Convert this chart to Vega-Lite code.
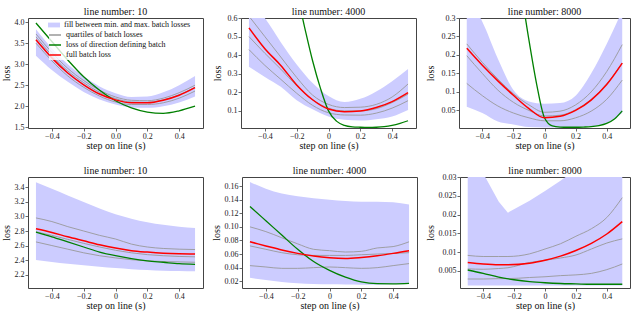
{
  "$schema": "https://vega.github.io/schema/vega-lite/v6.json",
  "padding": {"left": 0, "top": 6, "right": 0, "bottom": 0},
  "background": "white",
  "datasets": {
    "p1": [
      {"s": -0.5, "lo": 3.20, "hi": 3.83, "q1": 3.50, "q2": 3.65, "q3": 3.72, "r": 3.58},
      {"s": -0.4, "lo": 2.86, "hi": 3.38, "q1": 3.08, "q2": 3.21, "q3": 3.28, "r": 3.15},
      {"s": -0.3, "lo": 2.58, "hi": 3.00, "q1": 2.72, "q2": 2.84, "q3": 2.90, "r": 2.79},
      {"s": -0.2, "lo": 2.34, "hi": 2.71, "q1": 2.45, "q2": 2.56, "q3": 2.61, "r": 2.51},
      {"s": -0.1, "lo": 2.16, "hi": 2.47, "q1": 2.24, "q2": 2.33, "q3": 2.38, "r": 2.29},
      {"s": 0.0, "lo": 2.04, "hi": 2.31, "q1": 2.10, "q2": 2.18, "q3": 2.22, "r": 2.15},
      {"s": 0.1, "lo": 1.97, "hi": 2.22, "q1": 2.04, "q2": 2.10, "q3": 2.14, "r": 2.08},
      {"s": 0.2, "lo": 1.96, "hi": 2.23, "q1": 2.04, "q2": 2.09, "q3": 2.13, "r": 2.08},
      {"s": 0.3, "lo": 2.00, "hi": 2.33, "q1": 2.08, "q2": 2.15, "q3": 2.19, "r": 2.14},
      {"s": 0.4, "lo": 2.09, "hi": 2.50, "q1": 2.19, "q2": 2.27, "q3": 2.32, "r": 2.26},
      {"s": 0.5, "lo": 2.23, "hi": 2.72, "q1": 2.36, "q2": 2.45, "q3": 2.50, "r": 2.44}
    ],
    "g1": [
      {"s": -0.5, "g": 3.98}, {"s": -0.4, "g": 3.54}, {"s": -0.3, "g": 3.10}, {"s": -0.2, "g": 2.70},
      {"s": -0.1, "g": 2.38}, {"s": 0.0, "g": 2.13}, {"s": 0.1, "g": 1.96}, {"s": 0.2, "g": 1.86},
      {"s": 0.3, "g": 1.83}, {"s": 0.4, "g": 1.89}, {"s": 0.5, "g": 2.00}
    ],
    "p2": [
      {"s": -0.5, "lo": 0.337, "hi": 0.70, "q1": 0.43, "q2": 0.50, "q3": 0.61, "r": 0.547},
      {"s": -0.4, "lo": 0.283, "hi": 0.60, "q1": 0.345, "q2": 0.41, "q3": 0.50, "r": 0.435},
      {"s": -0.3, "lo": 0.23, "hi": 0.47, "q1": 0.27, "q2": 0.325, "q3": 0.39, "r": 0.345},
      {"s": -0.2, "lo": 0.158, "hi": 0.35, "q1": 0.195, "q2": 0.235, "q3": 0.28, "r": 0.24},
      {"s": -0.1, "lo": 0.109, "hi": 0.25, "q1": 0.13, "q2": 0.16, "q3": 0.185, "r": 0.16},
      {"s": 0.0, "lo": 0.07, "hi": 0.18, "q1": 0.09, "q2": 0.115, "q3": 0.135, "r": 0.11},
      {"s": 0.1, "lo": 0.052, "hi": 0.148, "q1": 0.078, "q2": 0.10, "q3": 0.118, "r": 0.096},
      {"s": 0.2, "lo": 0.048, "hi": 0.165, "q1": 0.077, "q2": 0.10, "q3": 0.12, "r": 0.10},
      {"s": 0.3, "lo": 0.055, "hi": 0.205, "q1": 0.088, "q2": 0.112, "q3": 0.135, "r": 0.118},
      {"s": 0.4, "lo": 0.07, "hi": 0.26, "q1": 0.115, "q2": 0.145, "q3": 0.175, "r": 0.15},
      {"s": 0.5, "lo": 0.105, "hi": 0.325, "q1": 0.155, "q2": 0.19, "q3": 0.245, "r": 0.198}
    ],
    "g2": [
      {"s": -0.5, "g": 1.9}, {"s": -0.4, "g": 1.45}, {"s": -0.3, "g": 1.08}, {"s": -0.25, "g": 0.9},
      {"s": -0.2, "g": 0.74}, {"s": -0.15, "g": 0.55}, {"s": -0.1, "g": 0.37}, {"s": -0.05, "g": 0.22},
      {"s": 0.0, "g": 0.10}, {"s": 0.05, "g": 0.045}, {"s": 0.1, "g": 0.022}, {"s": 0.15, "g": 0.014},
      {"s": 0.2, "g": 0.012}, {"s": 0.25, "g": 0.011}, {"s": 0.3, "g": 0.012}, {"s": 0.35, "g": 0.015},
      {"s": 0.4, "g": 0.022}, {"s": 0.45, "g": 0.033}, {"s": 0.5, "g": 0.047}
    ],
    "p3": [
      {"s": -0.5, "lo": 0.06, "hi": 0.36, "q1": 0.123, "q2": 0.198, "q3": 0.23, "r": 0.218},
      {"s": -0.4, "lo": 0.043, "hi": 0.29, "q1": 0.09, "q2": 0.15, "q3": 0.18, "r": 0.172},
      {"s": -0.3, "lo": 0.02, "hi": 0.19, "q1": 0.062, "q2": 0.105, "q3": 0.135, "r": 0.13},
      {"s": -0.2, "lo": 0.012, "hi": 0.105, "q1": 0.043, "q2": 0.072, "q3": 0.095, "r": 0.091},
      {"s": -0.1, "lo": 0.005, "hi": 0.074, "q1": 0.03, "q2": 0.05, "q3": 0.065, "r": 0.055},
      {"s": 0.0, "lo": 0.004, "hi": 0.068, "q1": 0.022, "q2": 0.035, "q3": 0.045, "r": 0.03},
      {"s": 0.1, "lo": 0.004, "hi": 0.07, "q1": 0.022, "q2": 0.037, "q3": 0.048, "r": 0.034},
      {"s": 0.2, "lo": 0.005, "hi": 0.09, "q1": 0.03, "q2": 0.052, "q3": 0.065, "r": 0.05},
      {"s": 0.3, "lo": 0.007, "hi": 0.15, "q1": 0.048, "q2": 0.08, "q3": 0.10, "r": 0.078},
      {"s": 0.4, "lo": 0.016, "hi": 0.23, "q1": 0.08, "q2": 0.122, "q3": 0.155, "r": 0.12},
      {"s": 0.5, "lo": 0.043, "hi": 0.32, "q1": 0.132, "q2": 0.178, "q3": 0.228, "r": 0.178}
    ],
    "g3": [
      {"s": -0.5, "g": 1.5}, {"s": -0.4, "g": 1.1}, {"s": -0.3, "g": 0.75}, {"s": -0.25, "g": 0.6},
      {"s": -0.2, "g": 0.48}, {"s": -0.15, "g": 0.37}, {"s": -0.1, "g": 0.24}, {"s": -0.05, "g": 0.12},
      {"s": 0.0, "g": 0.03}, {"s": 0.05, "g": 0.008}, {"s": 0.1, "g": 0.005}, {"s": 0.15, "g": 0.0045},
      {"s": 0.2, "g": 0.0045}, {"s": 0.25, "g": 0.005}, {"s": 0.3, "g": 0.006}, {"s": 0.35, "g": 0.009},
      {"s": 0.4, "g": 0.015}, {"s": 0.45, "g": 0.027}, {"s": 0.5, "g": 0.049}
    ],
    "p4": [
      {"s": -0.5, "lo": 2.40, "hi": 3.47, "q1": 2.65, "q2": 2.79, "q3": 2.98, "r": 2.83},
      {"s": -0.4, "lo": 2.375, "hi": 3.38, "q1": 2.60, "q2": 2.74, "q3": 2.93, "r": 2.78},
      {"s": -0.3, "lo": 2.35, "hi": 3.29, "q1": 2.55, "q2": 2.685, "q3": 2.86, "r": 2.72},
      {"s": -0.2, "lo": 2.33, "hi": 3.20, "q1": 2.50, "q2": 2.63, "q3": 2.80, "r": 2.665},
      {"s": -0.1, "lo": 2.31, "hi": 3.11, "q1": 2.46, "q2": 2.58, "q3": 2.74, "r": 2.61},
      {"s": 0.0, "lo": 2.29, "hi": 3.03, "q1": 2.43, "q2": 2.535, "q3": 2.69, "r": 2.565},
      {"s": 0.1, "lo": 2.275, "hi": 2.97, "q1": 2.405, "q2": 2.50, "q3": 2.62, "r": 2.53},
      {"s": 0.2, "lo": 2.265, "hi": 2.92, "q1": 2.39, "q2": 2.475, "q3": 2.58, "r": 2.51},
      {"s": 0.3, "lo": 2.255, "hi": 2.885, "q1": 2.38, "q2": 2.46, "q3": 2.56, "r": 2.495},
      {"s": 0.4, "lo": 2.25, "hi": 2.86, "q1": 2.375, "q2": 2.45, "q3": 2.55, "r": 2.487},
      {"s": 0.5, "lo": 2.245, "hi": 2.84, "q1": 2.37, "q2": 2.445, "q3": 2.545, "r": 2.484}
    ],
    "g4": [
      {"s": -0.5, "g": 2.785}, {"s": -0.4, "g": 2.72}, {"s": -0.3, "g": 2.65}, {"s": -0.2, "g": 2.58},
      {"s": -0.1, "g": 2.51}, {"s": 0.0, "g": 2.46}, {"s": 0.1, "g": 2.42}, {"s": 0.2, "g": 2.39},
      {"s": 0.3, "g": 2.37}, {"s": 0.4, "g": 2.35}, {"s": 0.5, "g": 2.34}
    ],
    "p5": [
      {"s": -0.5, "lo": 0.025, "hi": 0.166, "q1": 0.043, "q2": 0.072, "q3": 0.10, "r": 0.078},
      {"s": -0.4, "lo": 0.022, "hi": 0.156, "q1": 0.041, "q2": 0.067, "q3": 0.093, "r": 0.072},
      {"s": -0.3, "lo": 0.019, "hi": 0.149, "q1": 0.039, "q2": 0.062, "q3": 0.084, "r": 0.066},
      {"s": -0.2, "lo": 0.017, "hi": 0.145, "q1": 0.039, "q2": 0.059, "q3": 0.075, "r": 0.061},
      {"s": -0.1, "lo": 0.016, "hi": 0.142, "q1": 0.040, "q2": 0.058, "q3": 0.067, "r": 0.057},
      {"s": 0.0, "lo": 0.0155, "hi": 0.140, "q1": 0.041, "q2": 0.058, "q3": 0.065, "r": 0.0545},
      {"s": 0.1, "lo": 0.0152, "hi": 0.138, "q1": 0.040, "q2": 0.058, "q3": 0.063, "r": 0.0535},
      {"s": 0.2, "lo": 0.015, "hi": 0.137, "q1": 0.039, "q2": 0.059, "q3": 0.064, "r": 0.055},
      {"s": 0.3, "lo": 0.015, "hi": 0.137, "q1": 0.040, "q2": 0.060, "q3": 0.069, "r": 0.0575},
      {"s": 0.4, "lo": 0.0155, "hi": 0.136, "q1": 0.043, "q2": 0.061, "q3": 0.071, "r": 0.061},
      {"s": 0.5, "lo": 0.016, "hi": 0.133, "q1": 0.046, "q2": 0.062, "q3": 0.078, "r": 0.065}
    ],
    "g5": [
      {"s": -0.5, "g": 0.13}, {"s": -0.4, "g": 0.109}, {"s": -0.3, "g": 0.088}, {"s": -0.2, "g": 0.067},
      {"s": -0.1, "g": 0.049}, {"s": 0.0, "g": 0.036}, {"s": 0.1, "g": 0.026}, {"s": 0.2, "g": 0.019},
      {"s": 0.3, "g": 0.0165}, {"s": 0.4, "g": 0.0163}, {"s": 0.5, "g": 0.017}
    ],
    "p6": [
      {"s": -0.5, "lo": 0.0011, "hi": 0.040, "q1": 0.0028, "q2": 0.0055, "q3": 0.0091, "r": 0.0072},
      {"s": -0.4, "lo": 0.0011, "hi": 0.031, "q1": 0.0028, "q2": 0.0054, "q3": 0.0088, "r": 0.0068},
      {"s": -0.3, "lo": 0.0011, "hi": 0.0235, "q1": 0.0029, "q2": 0.0056, "q3": 0.0088, "r": 0.0066},
      {"s": -0.24, "lo": 0.0011, "hi": 0.0205, "q1": 0.0029, "q2": 0.0058, "q3": 0.0088, "r": 0.0066},
      {"s": -0.1, "lo": 0.0011, "hi": 0.0237, "q1": 0.0032, "q2": 0.0072, "q3": 0.0095, "r": 0.0070},
      {"s": 0.0, "lo": 0.0011, "hi": 0.0263, "q1": 0.0034, "q2": 0.0078, "q3": 0.0108, "r": 0.0078},
      {"s": 0.1, "lo": 0.0011, "hi": 0.029, "q1": 0.0037, "q2": 0.0084, "q3": 0.0122, "r": 0.0089},
      {"s": 0.2, "lo": 0.0011, "hi": 0.032, "q1": 0.0039, "q2": 0.0092, "q3": 0.0142, "r": 0.0104},
      {"s": 0.3, "lo": 0.0011, "hi": 0.035, "q1": 0.0043, "q2": 0.0108, "q3": 0.0162, "r": 0.0123},
      {"s": 0.4, "lo": 0.0011, "hi": 0.040, "q1": 0.0053, "q2": 0.0124, "q3": 0.0192, "r": 0.0148},
      {"s": 0.5, "lo": 0.0011, "hi": 0.045, "q1": 0.0068, "q2": 0.0135, "q3": 0.0245, "r": 0.0181}
    ],
    "g6": [
      {"s": -0.5, "g": 0.0052}, {"s": -0.4, "g": 0.0043}, {"s": -0.3, "g": 0.0033}, {"s": -0.2, "g": 0.0026},
      {"s": -0.1, "g": 0.0021}, {"s": 0.0, "g": 0.0018}, {"s": 0.1, "g": 0.0016}, {"s": 0.2, "g": 0.0015},
      {"s": 0.3, "g": 0.0014}, {"s": 0.4, "g": 0.0014}, {"s": 0.5, "g": 0.0014}
    ]
  },
  "vconcat": [
    {
      "spacing": 7,
      "hconcat": [
        {
          "width": 175, "height": 110,
          "title": {"text": "line number: 10", "offset": 1},
          "layer": [
            {"data": {"name": "p1"},
             "mark": {"type": "area", "opacity": 1, "interpolate": "monotone", "clip": true},
             "encoding": {
               "x": {"field": "s", "type": "quantitative", "title": "step on line (s)", "scale": {"domain": [-0.55, 0.55], "nice": false, "zero": false}, "axis": {"values": [-0.4, -0.2, 0, 0.2, 0.4], "format": ".1f", "tickCount": 20}},
               "y": {"field": "lo", "type": "quantitative", "title": "loss", "scale": {"domain": [1.48, 4.1], "nice": false, "zero": false}, "axis": {"values": [1.5, 2.0, 2.5, 3.0, 3.5, 4.0], "format": ".1f", "tickCount": 20, "minExtent": 15, "maxExtent": 15}},
               "y2": {"field": "hi"},
               "fill": {"datum": "fill between min. and max. batch losses", "type": "nominal",
                 "scale": {"domain": ["fill between min. and max. batch losses"], "range": ["#ccccff"]},
                 "legend": {
                   "orient": "none", "legendX": 21, "legendY": 2, "title": null,
                   "fillColor": "rgba(255,255,255,0.8)", "padding": 1,
                   "labelFont": "Liberation Serif", "labelFontSize": 8, "labelColor": "#111111", "labelLimit": 400, "labelOffset": 6,
                   "rowPadding": 0, "symbolSize": 64, "symbolType": "M-1.5,-0.6H1.5V0.6H-1.5Z", "symbolStrokeWidth": 0, "symbolOpacity": 1
                 }}
             }},
            {"data": {"name": "p1"},
             "transform": [{"fold": ["q1", "q2", "q3"], "as": ["k", "v"]}],
             "mark": {"type": "line", "strokeWidth": 0.9, "interpolate": "monotone", "clip": true},
             "encoding": {
               "x": {"field": "s", "type": "quantitative", "title": "step on line (s)"},
               "y": {"field": "v", "type": "quantitative", "title": "loss"},
               "detail": {"field": "k"},
               "stroke": {"datum": "quartiles of batch losses", "type": "nominal",
                 "scale": {"domain": ["quartiles of batch losses", "loss of direction defining batch", "full batch loss"], "range": ["#999999", "#008000", "#ff0000"]},
                 "legend": {
                   "orient": "none", "legendX": 21, "legendY": 11, "title": null,
                   "fillColor": "rgba(255,255,255,0.8)", "padding": 1,
                   "labelFont": "Liberation Serif", "labelFontSize": 8, "labelColor": "#111111", "labelLimit": 400, "labelOffset": 6,
                   "rowPadding": 1, "symbolSize": 64, "symbolType": "M-1.5,0H1.5", "symbolStrokeWidth": 1.5, "symbolOpacity": 1
                 }}
             }},
            {"data": {"name": "g1"},
             "mark": {"type": "line", "strokeWidth": 1.3, "interpolate": "monotone", "clip": true},
             "encoding": {
               "x": {"field": "s", "type": "quantitative", "title": "step on line (s)"},
               "y": {"field": "g", "type": "quantitative", "title": "loss"},
               "stroke": {"datum": "loss of direction defining batch", "type": "nominal"}
             }},
            {"data": {"name": "p1"},
             "mark": {"type": "line", "strokeWidth": 1.5, "interpolate": "monotone", "clip": true},
             "encoding": {
               "x": {"field": "s", "type": "quantitative", "title": "step on line (s)"},
               "y": {"field": "r", "type": "quantitative", "title": "loss"},
               "stroke": {"datum": "full batch loss", "type": "nominal"}
             }}
          ]
        },
        {
          "width": 175, "height": 110,
          "title": {"text": "line number: 4000", "offset": -3},
          "layer": [
            {"data": {"name": "p2"},
             "mark": {"type": "area", "color": "#ccccff", "opacity": 1, "interpolate": "monotone", "clip": true},
             "encoding": {
               "x": {"field": "s", "type": "quantitative", "title": "step on line (s)", "scale": {"domain": [-0.55, 0.55], "nice": false, "zero": false}, "axis": {"values": [-0.4, -0.2, 0, 0.2, 0.4], "format": "~f", "tickCount": 20}},
               "y": {"field": "lo", "type": "quantitative", "title": "loss", "scale": {"domain": [0.008, 0.6], "nice": false, "zero": false}, "axis": {"values": [0.1, 0.2, 0.3, 0.4, 0.5, 0.6], "format": ".1f", "tickCount": 20, "minExtent": 17, "maxExtent": 17}},
               "y2": {"field": "hi"}
             }},
            {"data": {"name": "p2"},
             "transform": [{"fold": ["q1", "q2", "q3"], "as": ["k", "v"]}],
             "mark": {"type": "line", "color": "#999999", "strokeWidth": 0.9, "interpolate": "monotone", "clip": true},
             "encoding": {
               "x": {"field": "s", "type": "quantitative", "title": "step on line (s)"},
               "y": {"field": "v", "type": "quantitative", "title": "loss"},
               "detail": {"field": "k"}
             }},
            {"data": {"name": "g2"},
             "mark": {"type": "line", "color": "#008000", "strokeWidth": 1.3, "interpolate": "monotone", "clip": true},
             "encoding": {
               "x": {"field": "s", "type": "quantitative", "title": "step on line (s)"},
               "y": {"field": "g", "type": "quantitative", "title": "loss"}
             }},
            {"data": {"name": "p2"},
             "mark": {"type": "line", "color": "#ff0000", "strokeWidth": 1.5, "interpolate": "monotone", "clip": true},
             "encoding": {
               "x": {"field": "s", "type": "quantitative", "title": "step on line (s)"},
               "y": {"field": "r", "type": "quantitative", "title": "loss"}
             }}
          ]
        },
        {
          "width": 171, "height": 110,
          "title": {"text": "line number: 8000", "offset": -3},
          "layer": [
            {"data": {"name": "p3"},
             "mark": {"type": "area", "color": "#ccccff", "opacity": 1, "interpolate": "monotone", "clip": true},
             "encoding": {
               "x": {"field": "s", "type": "quantitative", "title": "step on line (s)", "scale": {"domain": [-0.55, 0.55], "nice": false, "zero": false}, "axis": {"values": [-0.4, -0.2, 0, 0.2, 0.4], "format": "~f", "tickCount": 20}},
               "y": {"field": "lo", "type": "quantitative", "title": "loss", "scale": {"domain": [0.0025, 0.3], "nice": false, "zero": false}, "axis": {"values": [0.05, 0.1, 0.15, 0.2, 0.25, 0.3], "format": "~f", "tickCount": 20, "minExtent": 22, "maxExtent": 22}},
               "y2": {"field": "hi"}
             }},
            {"data": {"name": "p3"},
             "transform": [{"fold": ["q1", "q2", "q3"], "as": ["k", "v"]}],
             "mark": {"type": "line", "color": "#999999", "strokeWidth": 0.9, "interpolate": "monotone", "clip": true},
             "encoding": {
               "x": {"field": "s", "type": "quantitative", "title": "step on line (s)"},
               "y": {"field": "v", "type": "quantitative", "title": "loss"},
               "detail": {"field": "k"}
             }},
            {"data": {"name": "g3"},
             "mark": {"type": "line", "color": "#008000", "strokeWidth": 1.3, "interpolate": "monotone", "clip": true},
             "encoding": {
               "x": {"field": "s", "type": "quantitative", "title": "step on line (s)"},
               "y": {"field": "g", "type": "quantitative", "title": "loss"}
             }},
            {"data": {"name": "p3"},
             "mark": {"type": "line", "color": "#ff0000", "strokeWidth": 1.5, "interpolate": "monotone", "clip": true},
             "encoding": {
               "x": {"field": "s", "type": "quantitative", "title": "step on line (s)"},
               "y": {"field": "r", "type": "quantitative", "title": "loss"}
             }}
          ]
        }
      ]
    },
    {
      "spacing": 6,
      "hconcat": [
        {
          "width": 175, "height": 111,
          "title": {"text": "line number: 10", "offset": 1},
          "layer": [
            {"data": {"name": "p4"},
             "mark": {"type": "area", "color": "#ccccff", "opacity": 1, "interpolate": "monotone", "clip": true},
             "encoding": {
               "x": {"field": "s", "type": "quantitative", "title": "step on line (s)", "scale": {"domain": [-0.55, 0.55], "nice": false, "zero": false}, "axis": {"values": [-0.4, -0.2, 0, 0.2, 0.4], "format": "~f", "tickCount": 20}},
               "y": {"field": "lo", "type": "quantitative", "title": "loss", "scale": {"domain": [2.016, 3.543], "nice": false, "zero": false}, "axis": {"values": [2.2, 2.4, 2.6, 2.8, 3.0, 3.2, 3.4], "format": ".1f", "tickCount": 20, "minExtent": 15, "maxExtent": 15}},
               "y2": {"field": "hi"}
             }},
            {"data": {"name": "p4"},
             "transform": [{"fold": ["q1", "q2", "q3"], "as": ["k", "v"]}],
             "mark": {"type": "line", "color": "#999999", "strokeWidth": 0.9, "interpolate": "monotone", "clip": true},
             "encoding": {
               "x": {"field": "s", "type": "quantitative", "title": "step on line (s)"},
               "y": {"field": "v", "type": "quantitative", "title": "loss"},
               "detail": {"field": "k"}
             }},
            {"data": {"name": "g4"},
             "mark": {"type": "line", "color": "#008000", "strokeWidth": 1.3, "interpolate": "monotone", "clip": true},
             "encoding": {
               "x": {"field": "s", "type": "quantitative", "title": "step on line (s)"},
               "y": {"field": "g", "type": "quantitative", "title": "loss"}
             }},
            {"data": {"name": "p4"},
             "mark": {"type": "line", "color": "#ff0000", "strokeWidth": 1.5, "interpolate": "monotone", "clip": true},
             "encoding": {
               "x": {"field": "s", "type": "quantitative", "title": "step on line (s)"},
               "y": {"field": "r", "type": "quantitative", "title": "loss"}
             }}
          ]
        },
        {
          "width": 175, "height": 111,
          "title": {"text": "line number: 4000", "offset": 1},
          "layer": [
            {"data": {"name": "p5"},
             "mark": {"type": "area", "color": "#ccccff", "opacity": 1, "interpolate": "monotone", "clip": true},
             "encoding": {
               "x": {"field": "s", "type": "quantitative", "title": "step on line (s)", "scale": {"domain": [-0.55, 0.55], "nice": false, "zero": false}, "axis": {"values": [-0.4, -0.2, 0, 0.2, 0.4], "format": "~f", "tickCount": 20}},
               "y": {"field": "lo", "type": "quantitative", "title": "loss", "scale": {"domain": [0.0101, 0.1733], "nice": false, "zero": false}, "axis": {"values": [0.02, 0.04, 0.06, 0.08, 0.10, 0.12, 0.14, 0.16], "format": ".2f", "tickCount": 20, "minExtent": 19, "maxExtent": 19}},
               "y2": {"field": "hi"}
             }},
            {"data": {"name": "p5"},
             "transform": [{"fold": ["q1", "q2", "q3"], "as": ["k", "v"]}],
             "mark": {"type": "line", "color": "#999999", "strokeWidth": 0.9, "interpolate": "monotone", "clip": true},
             "encoding": {
               "x": {"field": "s", "type": "quantitative", "title": "step on line (s)"},
               "y": {"field": "v", "type": "quantitative", "title": "loss"},
               "detail": {"field": "k"}
             }},
            {"data": {"name": "g5"},
             "mark": {"type": "line", "color": "#008000", "strokeWidth": 1.3, "interpolate": "monotone", "clip": true},
             "encoding": {
               "x": {"field": "s", "type": "quantitative", "title": "step on line (s)"},
               "y": {"field": "g", "type": "quantitative", "title": "loss"}
             }},
            {"data": {"name": "p5"},
             "mark": {"type": "line", "color": "#ff0000", "strokeWidth": 1.5, "interpolate": "monotone", "clip": true},
             "encoding": {
               "x": {"field": "s", "type": "quantitative", "title": "step on line (s)"},
               "y": {"field": "r", "type": "quantitative", "title": "loss"}
             }}
          ]
        },
        {
          "width": 170, "height": 111,
          "title": {"text": "line number: 8000", "offset": -3},
          "layer": [
            {"data": {"name": "p6"},
             "mark": {"type": "area", "color": "#ccccff", "opacity": 1, "interpolate": "linear", "clip": true},
             "encoding": {
               "x": {"field": "s", "type": "quantitative", "title": "step on line (s)", "scale": {"domain": [-0.55, 0.55], "nice": false, "zero": false}, "axis": {"values": [-0.4, -0.2, 0, 0.2, 0.4], "format": "~f", "tickCount": 20}},
               "y": {"field": "lo", "type": "quantitative", "title": "loss", "scale": {"domain": [0.0004, 0.03], "nice": false, "zero": false}, "axis": {"values": [0.005, 0.01, 0.015, 0.02, 0.025, 0.03], "format": "~f", "tickCount": 20, "minExtent": 23, "maxExtent": 23}},
               "y2": {"field": "hi"}
             }},
            {"data": {"name": "p6"},
             "transform": [{"fold": ["q1", "q2", "q3"], "as": ["k", "v"]}],
             "mark": {"type": "line", "color": "#999999", "strokeWidth": 0.9, "interpolate": "monotone", "clip": true},
             "encoding": {
               "x": {"field": "s", "type": "quantitative", "title": "step on line (s)"},
               "y": {"field": "v", "type": "quantitative", "title": "loss"},
               "detail": {"field": "k"}
             }},
            {"data": {"name": "g6"},
             "mark": {"type": "line", "color": "#008000", "strokeWidth": 1.3, "interpolate": "monotone", "clip": true},
             "encoding": {
               "x": {"field": "s", "type": "quantitative", "title": "step on line (s)"},
               "y": {"field": "g", "type": "quantitative", "title": "loss"}
             }},
            {"data": {"name": "p6"},
             "mark": {"type": "line", "color": "#ff0000", "strokeWidth": 1.5, "interpolate": "monotone", "clip": true},
             "encoding": {
               "x": {"field": "s", "type": "quantitative", "title": "step on line (s)"},
               "y": {"field": "r", "type": "quantitative", "title": "loss"}
             }}
          ]
        }
      ]
    }
  ],
  "spacing": 14,
  "config": {
    "font": "Liberation Serif",
    "view": {"stroke": "#444444", "strokeWidth": 1},
    "axis": {
      "grid": false, "domain": false, "tickColor": "#444444", "tickSize": 3, "tickWidth": 0.8,
      "labelFont": "Liberation Serif", "labelFontSize": 8, "labelColor": "#222222", "labelPadding": 1,
      "labelOverlap": false, "labelFlush": false, "labelBound": false,
      "titleFont": "Liberation Serif", "titleFontSize": 10, "titleFontWeight": "normal", "titleColor": "#111111"
    },
    "axisX": {"titlePadding": 0},
    "axisY": {"titlePadding": 2},
    "title": {"font": "Liberation Serif", "fontSize": 10, "fontWeight": "normal", "color": "#111111", "frame": "group"}
  }
}
